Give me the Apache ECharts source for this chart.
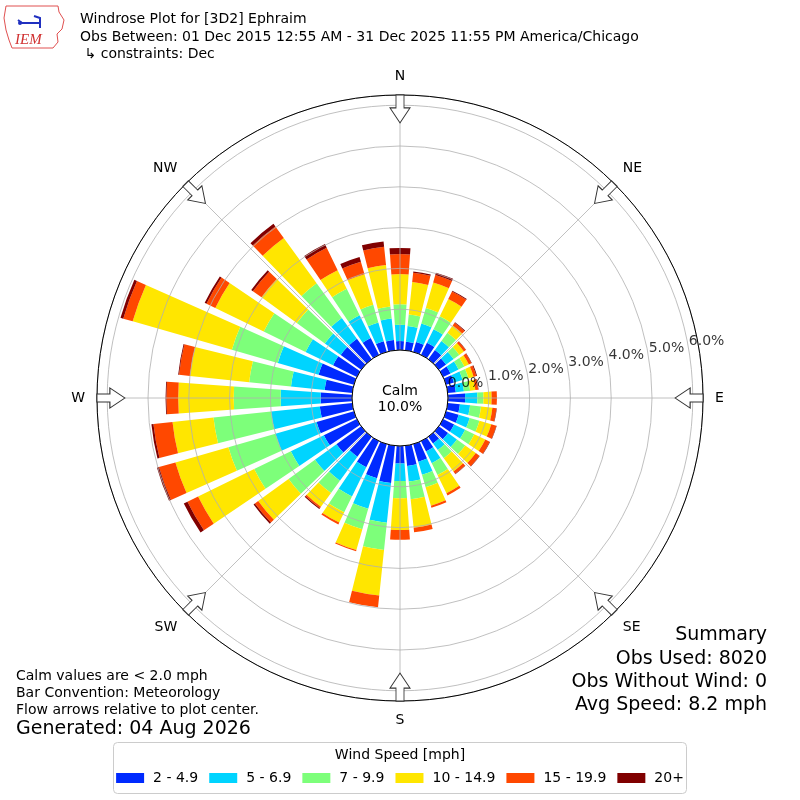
<!DOCTYPE html>
<html><head><meta charset="utf-8">
<script src="https://cdn.jsdelivr.net/npm/echarts@6/dist/echarts.min.js"></script>
<style>html,body{margin:0;padding:0;background:#fff}#c{width:800px;height:800px}</style>
</head><body><div id="c"></div>
<script>
// ---- data (percent of observations) ----
const directions = ['0','10','20','30','40','50','60','70','80','90','100','110','120','130','140','150','160','170',
  '180','190','200','210','220','230','240','250','260','270','280','290','300','310','320','330','340','350'];
const speedBins = ['2 - 4.9','5 - 6.9','7 - 9.9','10 - 14.9','15 - 19.9','20+'];
const binColors = ['#002aff','#00d4ff','#7dff7a','#ffe600','#ff4800','#800000'];
const pct2to5 = [.22,.21,.25,.33,.28,.22,.20,.20,.20,.42,.30,.32,.30,.28,.20,.28,.45,.50,.43,.92,.87,.71,.60,.75,.90,.95,.80,.77,.68,.90,.65,.62,.62,.46,.27,.25];
const pct5to7 = [.40,.39,.47,.37,.27,.23,.22,.22,.20,.30,.25,.28,.30,.27,.20,.32,.33,.38,.43,.98,.78,.80,.73,.65,.90,1.05,1.20,.98,.83,1.04,.75,.48,.63,.62,.48,.53];
const pct7to10 = [.50,.28,.40,.35,.25,.17,.16,.15,.15,.15,.27,.25,.25,.25,.25,.32,.32,.44,.42,.67,.52,.43,.37,.80,1.00,1.20,1.42,1.15,1.03,1.17,1.14,.85,1.05,.72,.45,.30];
const pct10to15 = [.74,.80,.65,.47,.22,.14,.12,.13,.13,.20,.28,.30,.30,.32,.40,.50,.47,.70,.78,1.12,.53,.28,.42,.92,1.53,1.35,1.01,1.36,1.46,2.53,1.32,1.07,1.37,.51,.78,1.02];
const pct15to20 = [.49,.23,.19,.21,.08,.06,.07,.07,.07,.13,.10,.13,.12,.11,.07,.06,.05,.11,.24,.29,.03,.05,.04,.10,.29,.42,.47,.29,.27,.24,.24,.26,.35,.61,.32,.45];
const pct20plus = [.15,.03,.06,.02,.02,.01,.01,.02,.01,0,.01,.01,.01,.01,.01,0,0,0,0,0,0,0,.03,.04,.10,.05,.05,.02,.02,.07,.05,.05,.08,.10,.12,.13];
const ringTicks = [0,1,2,3,4,5,6];
const compassNames = ['N','NE','E','SE','S','SW','W','NW'];
const compassAzimuths = [0,45,90,135,180,225,270,315];
const calmPct = 10.0;

// ---- layout constants ----
const CX = 400, CY = 398, R0 = 48, R1 = 303, RMAX = 6.25;
const ARROW_R = 5.91, LABEL_AZ = 80;
const FONT = '"DejaVu Sans", sans-serif';
const binData = [pct2to5, pct5to7, pct7to10, pct10to15, pct15to20, pct20plus];

const chart = echarts.init(document.getElementById('c'), null, {renderer:'canvas'});
const arrowPath = 'path://M-4,0 L4,0 L4,13 L10,13 L0,28 L-10,13 L-4,13 Z';

const series = speedBins.map((name, i) => ({
  type: 'bar', name, coordinateSystem: 'polar', polarIndex: 0, stack: 'wind',
  data: binData[i], barCategoryGap: '20%', itemStyle: {color: binColors[i]}, z: 2, silent: true
}));
series.push({
  type: 'scatter', coordinateSystem: 'polar', polarIndex: 1, silent: true, z: 6,
  data: compassAzimuths.map(a => [ARROW_R, a]),
  symbol: arrowPath, symbolSize: [20, 28], symbolKeepAspect: false,
  symbolRotate: (v) => -v[1],
  itemStyle: {color: '#fff', borderColor: '#333', borderWidth: 1, opacity: 1}
});
series.push({
  type: 'scatter', coordinateSystem: 'polar', polarIndex: 1, silent: true, z: 7,
  data: ringTicks.map(t => [t, LABEL_AZ]),
  symbol: 'circle', symbolSize: 1, itemStyle: {color: 'rgba(0,0,0,0)'},
  label: {show: true, position: 'right', distance: 0, offset: [0, -6],
    formatter: p => p.value[0].toFixed(1) + '%', fontSize: 14, color: '#000', fontFamily: FONT}
});

const txt = (x, y, text, size, align) => ({
  type: 'text', x, y, z: 10,
  style: {text, font: size + 'px ' + FONT, fill: '#000', align: align || 'left', verticalAlign: 'middle'}
});

const option = {
  animation: false,
  backgroundColor: '#fff',
  textStyle: {fontFamily: FONT},
  polar: [
    {center: [CX, CY], radius: [R0, R1]},
    {center: [CX, CY], radius: [R0, R1]}
  ],
  angleAxis: [
    {polarIndex: 0, type: 'category', data: directions, startAngle: 95, clockwise: true,
     axisLine: {show: false}, axisTick: {show: false}, axisLabel: {show: false}, splitLine: {show: false}},
    {polarIndex: 1, type: 'value', min: 0, max: 360, interval: 45, startAngle: 90, clockwise: true, z: 4,
     axisLine: {show: true, lineStyle: {color: '#000', width: 1}},
     axisTick: {show: false},
     axisLabel: {show: true, margin: 12, fontSize: 14, color: '#000',
       formatter: v => compassNames[v / 45] || ''},
     splitLine: {show: true, lineStyle: {color: '#b0b0b0', width: 0.8}}}
  ],
  radiusAxis: [
    {polarIndex: 0, type: 'value', min: 0, max: RMAX,
     axisLine: {show: false}, axisTick: {show: false}, axisLabel: {show: false}, splitLine: {show: false}},
    {polarIndex: 1, type: 'value', min: 0, max: RMAX, interval: 1, z: 3,
     axisLine: {show: false}, axisTick: {show: false}, axisLabel: {show: false},
     splitLine: {show: true, lineStyle: {color: '#b0b0b0', width: 0.8}}}
  ],
  legend: {
    data: speedBins, left: 'center', top: 771, orient: 'horizontal', padding: 0, z: 5,
    itemWidth: 28, itemHeight: 10, itemGap: 11, icon: 'rect', selectedMode: false,
    textStyle: {fontSize: 14, color: '#000', padding: [0, 0, 0, 4]}
  },
  series,
  graphic: {elements: [
    // legend frame + title
    {type: 'rect', z: 1, shape: {x: 113.5, y: 742.5, width: 573, height: 51, r: 4},
     style: {fill: '#fff', stroke: '#cccccc', lineWidth: 1}},
    txt(400, 755, 'Wind Speed [mph]', 14, 'center'),
    // header
    txt(80, 19, 'Windrose Plot for [3D2] Ephraim', 14),
    txt(80, 37, 'Obs Between: 01 Dec 2015 12:55 AM - 31 Dec 2025 11:55 PM America/Chicago', 14),
    txt(84.5, 54, '\u21b3 constraints: Dec', 14),
    // footer left
    txt(16, 676, 'Calm values are < 2.0 mph', 14),
    txt(16, 693, 'Bar Convention: Meteorology', 14),
    txt(16, 710, 'Flow arrows relative to plot center.', 14),
    txt(16, 729, 'Generated: 04 Aug 2026', 19),
    // summary right
    txt(767, 635, 'Summary', 19, 'right'),
    txt(767, 659, 'Obs Used: 8020', 19, 'right'),
    txt(767, 682, 'Obs Without Wind: 0', 19, 'right'),
    txt(767, 705, 'Avg Speed: 8.2 mph', 19, 'right'),
    // calm
    txt(CX, 391, 'Calm', 14, 'center'),
    txt(CX, 407, calmPct.toFixed(1) + '%', 14, 'center'),
    // logo
    {type: 'polyline', z: 10, shape: {points: [[6,6],[58,6],[59,12],[64,20],[62,29],[57,34],[58,42],[53,48],[12,48],[9,40],[6,30],[4,18],[6,6]]},
     style: {stroke: '#e05050', lineWidth: 1, fill: null}},
    {type: 'polyline', z: 10, shape: {points: [[18,20],[22,23],[40,23]]}, style: {stroke: '#2030c0', lineWidth: 2, fill: null}},
    {type: 'polyline', z: 10, shape: {points: [[34,16],[40,18],[40,28]]}, style: {stroke: '#2030c0', lineWidth: 2, fill: null}},
    {type: 'circle', z: 10, shape: {cx: 20, cy: 23, r: 2}, style: {fill: '#2030c0'}},
    {type: 'text', z: 10, x: 15, y: 40, style: {text: 'IEM', font: 'italic 15px "Liberation Serif", serif', fill: '#d03030', verticalAlign: 'middle'}}
  ]}
};
chart.setOption(option);
</script>
</body></html>
